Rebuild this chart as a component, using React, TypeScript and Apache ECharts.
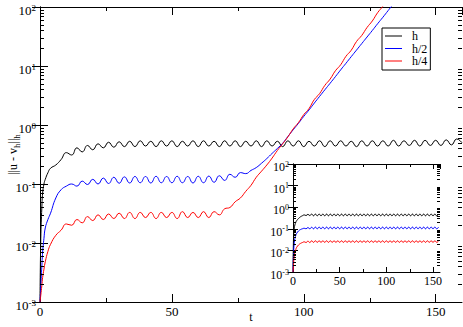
import React, { useEffect, useRef } from "react";
import * as echarts from "echarts";

// ---------- main plot data ----------
const tMain = [0, 0.3, 0.7, 1, 1.5, 2, 3,
  4, 6, 8, 10, 12, 14, 16, 18, 20, 22, 24, 26, 28, 30, 32, 34, 36, 38, 40,
  42, 44, 46, 48, 50, 52, 54, 56, 58, 60, 62, 64, 66, 68, 70, 72, 74, 76, 78, 80,
  82, 84, 86, 88, 90, 92, 94, 96, 98, 100, 102, 104, 106, 108, 110, 112, 114, 116, 118, 120,
  122, 124, 126, 128, 130, 132, 134, 136, 138, 140, 142, 144, 146, 148, 150, 152, 154, 156, 158, 160];

const mainH = [0.001, 0.012, 0.04, 0.07, 0.1, 0.12, 0.155,
  0.185, 0.21, 0.26,
  0.34, 0.31, 0.41, 0.35, 0.45, 0.38, 0.48, 0.41, 0.51, 0.42,
  0.52, 0.43, 0.53, 0.43, 0.54, 0.44, 0.53, 0.43, 0.54, 0.44,
  0.54, 0.43, 0.53, 0.44, 0.54, 0.43, 0.54, 0.44, 0.53, 0.43,
  0.54, 0.44, 0.54, 0.43, 0.53, 0.44, 0.54, 0.43, 0.54, 0.44,
  0.53, 0.43, 0.54, 0.44, 0.54, 0.43, 0.53, 0.44, 0.54, 0.43,
  0.54, 0.44, 0.54, 0.44, 0.53, 0.43, 0.54, 0.44, 0.54, 0.44,
  0.54, 0.44, 0.55, 0.44, 0.54, 0.45, 0.55, 0.44, 0.55, 0.45,
  0.55, 0.45, 0.56, 0.46, 0.58, 0.5];

const mainH2 = [0.001, 0.0018, 0.004, 0.007, 0.012, 0.018, 0.025,
  0.032, 0.058, 0.08,
  0.092, 0.1, 0.092, 0.112, 0.098, 0.12, 0.1, 0.126, 0.102, 0.13,
  0.103, 0.132, 0.104, 0.134, 0.105, 0.134, 0.104, 0.135, 0.105, 0.134,
  0.105, 0.135, 0.105, 0.134, 0.104, 0.135, 0.105, 0.136, 0.107, 0.138,
  0.115, 0.146, 0.13, 0.156, 0.15, 0.17, 0.19, 0.225, 0.27, 0.33,
  0.4, 0.49, 0.64, 0.83, 1.07, 1.4, 1.8, 2.35, 3.05, 3.95,
  5.1, 6.6, 8.6, 11.1, 14.4, 18.6, 24, 31, 40, 52,
  67, 87, 113];

const mainH4 = [0.001, 0.0013, 0.0019, 0.0026, 0.0036, 0.0048, 0.0072,
  0.0095, 0.0135, 0.0165,
  0.021, 0.02, 0.025, 0.022, 0.028, 0.024, 0.03, 0.025, 0.031, 0.026,
  0.032, 0.026, 0.033, 0.026, 0.033, 0.027, 0.033, 0.026, 0.033, 0.027,
  0.033, 0.026, 0.034, 0.027, 0.033, 0.027, 0.034, 0.027, 0.034, 0.03,
  0.038, 0.04, 0.05, 0.058, 0.075, 0.095, 0.13, 0.165, 0.21, 0.275,
  0.37, 0.48, 0.63, 0.86, 1.1, 1.5, 1.9, 2.7, 3.4, 4.7,
  6.0, 8.3, 10.5, 14.6, 18.5, 26, 33, 45, 58, 80,
  103, 140];

// ---------- inset data ----------
const tInset = [0, 0.5, 1, 2, 3,
  4, 6, 8, 10, 12, 14, 16, 18, 20, 22, 24, 26, 28, 30, 32, 34, 36, 38, 40,
  42, 44, 46, 48, 50, 52, 54, 56, 58, 60, 62, 64, 66, 68, 70, 72, 74, 76, 78, 80,
  82, 84, 86, 88, 90, 92, 94, 96, 98, 100, 102, 104, 106, 108, 110, 112, 114, 116, 118, 120,
  122, 124, 126, 128, 130, 132, 134, 136, 138, 140, 142, 144, 146, 148, 150, 152, 154, 156];

const insetH = [0.001, 0.03, 0.08, 0.15, 0.2,
  0.24, 0.3, 0.36, 0.4, 0.44, 0.41, 0.47, 0.41, 0.48,
  0.4, 0.48, 0.4, 0.48, 0.4, 0.48, 0.4, 0.48, 0.4, 0.48,
  0.4, 0.48, 0.4, 0.48, 0.4, 0.48, 0.4, 0.48, 0.4, 0.48,
  0.4, 0.48, 0.4, 0.48, 0.4, 0.48, 0.4, 0.48, 0.4, 0.48,
  0.4, 0.48, 0.4, 0.48, 0.4, 0.48, 0.4, 0.48, 0.4, 0.48,
  0.4, 0.48, 0.4, 0.48, 0.4, 0.48, 0.4, 0.48, 0.4, 0.48,
  0.4, 0.48, 0.4, 0.48, 0.4, 0.48, 0.4, 0.48, 0.4, 0.48,
  0.4, 0.48, 0.4, 0.48, 0.4, 0.48, 0.4, 0.48];

const insetH2 = [0.001, 0.006, 0.015, 0.035, 0.05,
  0.062, 0.08, 0.092, 0.1, 0.106, 0.1, 0.115, 0.1, 0.118,
  0.1, 0.12, 0.1, 0.12, 0.1, 0.12, 0.1, 0.12, 0.1, 0.12,
  0.1, 0.12, 0.1, 0.12, 0.1, 0.12, 0.1, 0.12, 0.1, 0.12,
  0.1, 0.12, 0.1, 0.12, 0.1, 0.12, 0.1, 0.12, 0.1, 0.12,
  0.1, 0.12, 0.1, 0.12, 0.1, 0.12, 0.1, 0.12, 0.1, 0.12,
  0.1, 0.12, 0.1, 0.12, 0.1, 0.12, 0.1, 0.12, 0.1, 0.12,
  0.1, 0.12, 0.1, 0.12, 0.1, 0.12, 0.1, 0.12, 0.1, 0.12,
  0.1, 0.12, 0.1, 0.12, 0.1, 0.12, 0.1, 0.12];

const insetH4 = [0.001, 0.002, 0.004, 0.008, 0.011,
  0.014, 0.018, 0.021, 0.023, 0.025, 0.023, 0.027, 0.023, 0.028,
  0.0235, 0.028, 0.0235, 0.028, 0.0235, 0.028, 0.0235, 0.028, 0.0235, 0.028,
  0.0235, 0.028, 0.0235, 0.028, 0.0235, 0.028, 0.0235, 0.028, 0.0235, 0.028,
  0.0235, 0.028, 0.0235, 0.028, 0.0235, 0.028, 0.0235, 0.028, 0.0235, 0.028,
  0.0235, 0.028, 0.0235, 0.028, 0.0235, 0.028, 0.0235, 0.028, 0.0235, 0.028,
  0.0235, 0.028, 0.0235, 0.028, 0.0235, 0.028, 0.0235, 0.028, 0.0235, 0.028,
  0.0235, 0.028, 0.0235, 0.028, 0.0235, 0.028, 0.0235, 0.028, 0.0235, 0.028,
  0.0235, 0.028, 0.0235, 0.028, 0.0235, 0.028, 0.0235, 0.028];

const seriesNames = ["h", "h/2", "h/4"];
const seriesColors = ["#000000", "#0000ff", "#ff0000"];
const xMinorTicks = [25, 75, 125];

const FONT = "'Liberation Serif', 'DejaVu Serif', serif";

const logMinorVals: number[] = [];
for (let e = -3; e < 2; e++) for (let m = 2; m <= 9; m++) logMinorVals.push(m * Math.pow(10, e));

const pairs = (t: number[], v: number[]) => v.map((y, i) => [t[i], y]);

const supLabel = (v: number) => `{b|10}{e|${Math.round(Math.log10(v))}}`;

function yMinorSeries(xi: number, yi: number, xMin: number, xMax: number, len: number) {
  return {
    type: "custom",
    xAxisIndex: xi,
    yAxisIndex: yi,
    silent: true,
    z: 5,
    encode: { x: 0, y: 1 },
    data: logMinorVals.map((v) => [xMin, v]),
    renderItem: (_p: any, api: any) => {
      const v = api.value(1);
      const a = api.coord([xMin, v]);
      const b = api.coord([xMax, v]);
      const y = Math.round(a[1]) + 0.5;
      return {
        type: "group",
        children: [
          { type: "line", shape: { x1: a[0], y1: y, x2: a[0] + len, y2: y }, style: { stroke: "#000", lineWidth: 1 } },
          { type: "line", shape: { x1: b[0], y1: y, x2: b[0] - len, y2: y }, style: { stroke: "#000", lineWidth: 1 } },
        ],
      };
    },
  };
}

function xMinorSeries(xi: number, yi: number, yMin: number, yMax: number, len: number) {
  return {
    type: "custom",
    xAxisIndex: xi,
    yAxisIndex: yi,
    silent: true,
    z: 5,
    encode: { x: 0, y: 1 },
    data: xMinorTicks.map((v) => [v, yMin]),
    renderItem: (_p: any, api: any) => {
      const v = api.value(0);
      const a = api.coord([v, yMin]);
      const b = api.coord([v, yMax]);
      const x = Math.round(a[0]) + 0.5;
      return {
        type: "group",
        children: [
          { type: "line", shape: { x1: x, y1: a[1], x2: x, y2: a[1] - len }, style: { stroke: "#000", lineWidth: 1 } },
          { type: "line", shape: { x1: x, y1: b[1], x2: x, y2: b[1] + len }, style: { stroke: "#000", lineWidth: 1 } },
        ],
      };
    },
  };
}

export default function App() {
  const ref = useRef<HTMLDivElement>(null);
  useEffect(() => {
    document.body.style.margin = "0";
    const chart = echarts.init(ref.current!, null, { renderer: "svg" });
    const axisLine = { show: true, lineStyle: { color: "#000", width: 1 } };
    const xAxisBase = (grid: number, max: number, pos: string, labels: boolean, tickLen: number, fs: number) => ({
      type: "value",
      gridIndex: grid,
      min: 0,
      max,
      interval: 50,
      position: pos,
      axisLine,
      axisTick: { show: true, inside: true, length: tickLen, lineStyle: { color: "#000" } },
      splitLine: { show: false },
      axisLabel: {
        show: labels,
        showMaxLabel: false,
        color: "#000",
        fontFamily: FONT,
        fontSize: fs,
        margin: 3,
      },
    });
    const yAxisBase = (grid: number, pos: string, labels: boolean, tickLen: number, fs: number, sfs: number) => ({
      type: "log",
      logBase: 10,
      gridIndex: grid,
      min: 0.001,
      max: 100,
      position: pos,
      axisLine,
      axisTick: { show: true, inside: true, length: tickLen, lineStyle: { color: "#000" } },
      splitLine: { show: false },
      axisLabel: {
        show: labels,
        margin: 4,
        padding: [6, 0, 0, 0],
        formatter: supLabel,
        rich: {
          b: { fontFamily: FONT, fontSize: fs, color: "#000", lineHeight: 14 },
          e: { fontFamily: FONT, fontSize: sfs, color: "#000", verticalAlign: "top", lineHeight: sfs },
        },
      },
    });

    const line = (name: string, color: string, data: number[][], xi: number, yi: number) => ({
      name,
      type: "line",
      xAxisIndex: xi,
      yAxisIndex: yi,
      data,
      showSymbol: false,
      symbol: "none",
      smooth: 0.5,
      color,
      lineStyle: { color, width: 1 },
      z: 3,
    });

    const mainData = [mainH, mainH2, mainH4];
    const insetData = [insetH, insetH2, insetH4];

    chart.setOption({
      animation: false,
      grid: [
        { left: 40, top: 7, width: 422, height: 295, containLabel: false, outerBoundsMode: "none" },
        { left: 293, top: 164, width: 147, height: 108, containLabel: false, outerBoundsMode: "none" },
      ],
      legend: {
        data: seriesNames,
        orient: "vertical",
        left: 382,
        top: 28,
        icon: "rect",
        itemWidth: 17,
        itemHeight: 1,
        itemGap: 0.5,
        padding: [2, 3, 3, 3],
        borderColor: "#000",
        borderWidth: 1,
        borderRadius: 0,
        backgroundColor: "#fff",
        textStyle: { fontFamily: FONT, fontSize: 12, color: "#000", lineHeight: 12, padding: [0, 0, 0, 5] },
      },
      xAxis: [
        {
          ...xAxisBase(0, 160, "bottom", true, 8, 13),
          name: "t",
          nameLocation: "middle",
          nameGap: 9,
          nameMoveOverlap: false,
          nameTextStyle: { fontFamily: FONT, fontSize: 12, color: "#000" },
        },
        xAxisBase(0, 160, "top", false, 8, 13),
        xAxisBase(1, 157.5, "bottom", true, 5, 12),
        xAxisBase(1, 157.5, "top", false, 5, 12),
      ],
      yAxis: [
        {
          ...yAxisBase(0, "left", true, 8, 13, 9),
          name: "{n|||u - v}{s|h}{n|||}{s|h}",
          nameLocation: "middle",
          nameGap: 19,
          nameRotate: 90,
          nameMoveOverlap: false,
          nameTextStyle: {
            rich: {
              n: { fontFamily: FONT, fontSize: 12, color: "#000", lineHeight: 16 },
              s: { fontFamily: FONT, fontSize: 9, color: "#000", verticalAlign: "bottom", lineHeight: 9 },
            },
          },
        },
        yAxisBase(0, "right", false, 8, 13, 9),
        yAxisBase(1, "left", true, 5, 12, 8),
        yAxisBase(1, "right", false, 5, 12, 8),
      ],
      series: [
        ...seriesNames.map((n, i) => line(n, seriesColors[i], pairs(tMain, mainData[i]), 0, 0)),
        ...seriesNames.map((n, i) => line(n, seriesColors[i], pairs(tInset, insetData[i]), 2, 2)),
        yMinorSeries(0, 0, 0, 160, 4),
        xMinorSeries(0, 0, 0.001, 100, 4),
        yMinorSeries(2, 2, 0, 157.5, 3),
        xMinorSeries(2, 2, 0.001, 100, 3),
      ],
    });
    return () => chart.dispose();
  }, []);
  return <div ref={ref} style={{ width: 463, height: 327 }} />;
}
